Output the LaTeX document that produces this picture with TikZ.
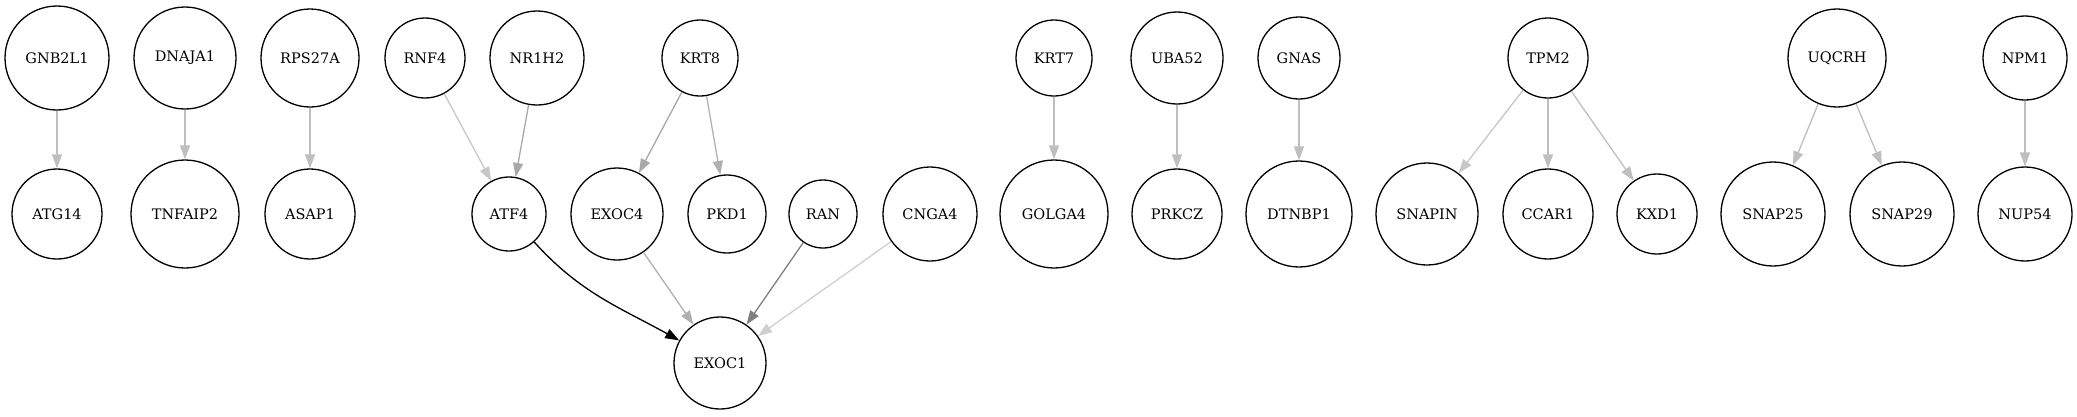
\documentclass[tikz,border=0pt]{standalone}
\usepackage{fontspec}
\setmainfont{DejaVu Serif}
\usepackage{tikz}
\usetikzlibrary{arrows.meta,positioning}
\usepackage{xcolor}

\begin{document}
\begin{tikzpicture}[
        x=1pt, y=1pt,
        on grid,
        >={Triangle[length=14pt,width=10pt]},
        every node/.style={draw, circle, inner sep=0pt, line width=1.3pt, font=\fontsize{14.5}{17}\selectfont},
        every path/.style={line width=1.3pt}
    ]
    \useasboundingbox (0,0) rectangle (2077,-416);
    \node (gnb2l1) [minimum size=104pt] at (57,-58) {GNB2L1};
    \node (dnaja1) [minimum size=102pt, right=128pt of gnb2l1] {DNAJA1};
    \node (rps27a) [minimum size=98pt, right=125pt of dnaja1] {RPS27A};
    \node (rnf4) [minimum size=80pt, right=115pt of rps27a] {RNF4};
    \node (nr1h2) [minimum size=94pt, right=112pt of rnf4] {NR1H2};
    \node (krt8) [minimum size=76pt, right=163pt of nr1h2] {KRT8};
    \node (krt7) [minimum size=76pt, right=354pt of krt8] {KRT7};
    \node (uba52) [minimum size=92pt, right=123pt of krt7] {UBA52};
    \node (gnas) [minimum size=82pt, right=122pt of uba52] {GNAS};
    \node (tpm2) [minimum size=80pt, right=249pt of gnas] {TPM2};
    \node (uqcrh) [minimum size=98pt, right=289pt of tpm2] {UQCRH};
    \node (npm1) [minimum size=84pt, right=188pt of uqcrh] {NPM1};

    \node (atg14) [minimum size=90pt, below=156pt of gnb2l1] {ATG14};
    \node (tnfaip2) [minimum size=108pt, below=156pt of dnaja1] {TNFAIP2};
    \node (asap1) [minimum size=90pt, below=156pt of rps27a] {ASAP1};
    \node (atf4) [minimum size=74pt, below left=156pt and 28pt of nr1h2] {ATF4};
    \node (exoc4) [minimum size=92pt, right=108pt of atf4] {EXOC4};
    \node (pkd1) [minimum size=78pt, right=110pt of exoc4] {PKD1};
    \node (ran) [minimum size=68pt, right=96pt of pkd1] {RAN};
    \node (cnga4) [minimum size=94pt, right=107pt of ran] {CNGA4};
    \node (golga4) [minimum size=108pt, below=156pt of krt7] {GOLGA4};
    \node (prkcz) [minimum size=90pt, below=156pt of uba52] {PRKCZ};
    \node (dtnbp1) [minimum size=106pt, below=156pt of gnas] {DTNBP1};
    \node (ccar1) [minimum size=90pt, below=156pt of tpm2] {CCAR1};
    \node (snapin) [minimum size=102pt, left=121pt of ccar1] {SNAPIN};
    \node (kxd1) [minimum size=80pt, right=109pt of ccar1] {KXD1};
    \node (snap25) [minimum size=104pt, right=116pt of kxd1] {SNAP25};
    \node (snap29) [minimum size=104pt, right=129pt of snap25] {SNAP29};
    \node (nup54) [minimum size=94pt, below=156pt of npm1] {NUP54};

    \node (exoc1) [minimum size=92pt, below right=149pt and 103pt of exoc4] {EXOC1};

    \draw[->, black!25] (gnb2l1) -- (atg14);
    \draw[->, black!25] (dnaja1) -- (tnfaip2);
    \draw[->, black!25] (rps27a) -- (asap1);
    \draw[->, black!22] (rnf4) -- (atf4);
    \draw[->, black!34] (nr1h2) -- (atf4);
    \draw[->, black!34] (krt8) -- (exoc4);
    \draw[->, black!31] (krt8) -- (pkd1);
    \draw[->, black] (atf4) to[out=-48, in=151] (exoc1);
    \draw[->, black!31] (exoc4) -- (exoc1);
    \draw[->, black!50] (ran) -- (exoc1);
    \draw[->, black!19] (cnga4) -- (exoc1);
    \draw[->, black!25] (krt7) -- (golga4);
    \draw[->, black!25] (uba52) -- (prkcz);
    \draw[->, black!25] (gnas) -- (dtnbp1);
    \draw[->, black!22] (tpm2) -- (snapin);
    \draw[->, black!25] (tpm2) -- (ccar1);
    \draw[->, black!25] (tpm2) -- (kxd1);
    \draw[->, black!25] (uqcrh) -- (snap25);
    \draw[->, black!25] (uqcrh) -- (snap29);
    \draw[->, black!25] (npm1) -- (nup54);
    \end{tikzpicture}
\end{document}
